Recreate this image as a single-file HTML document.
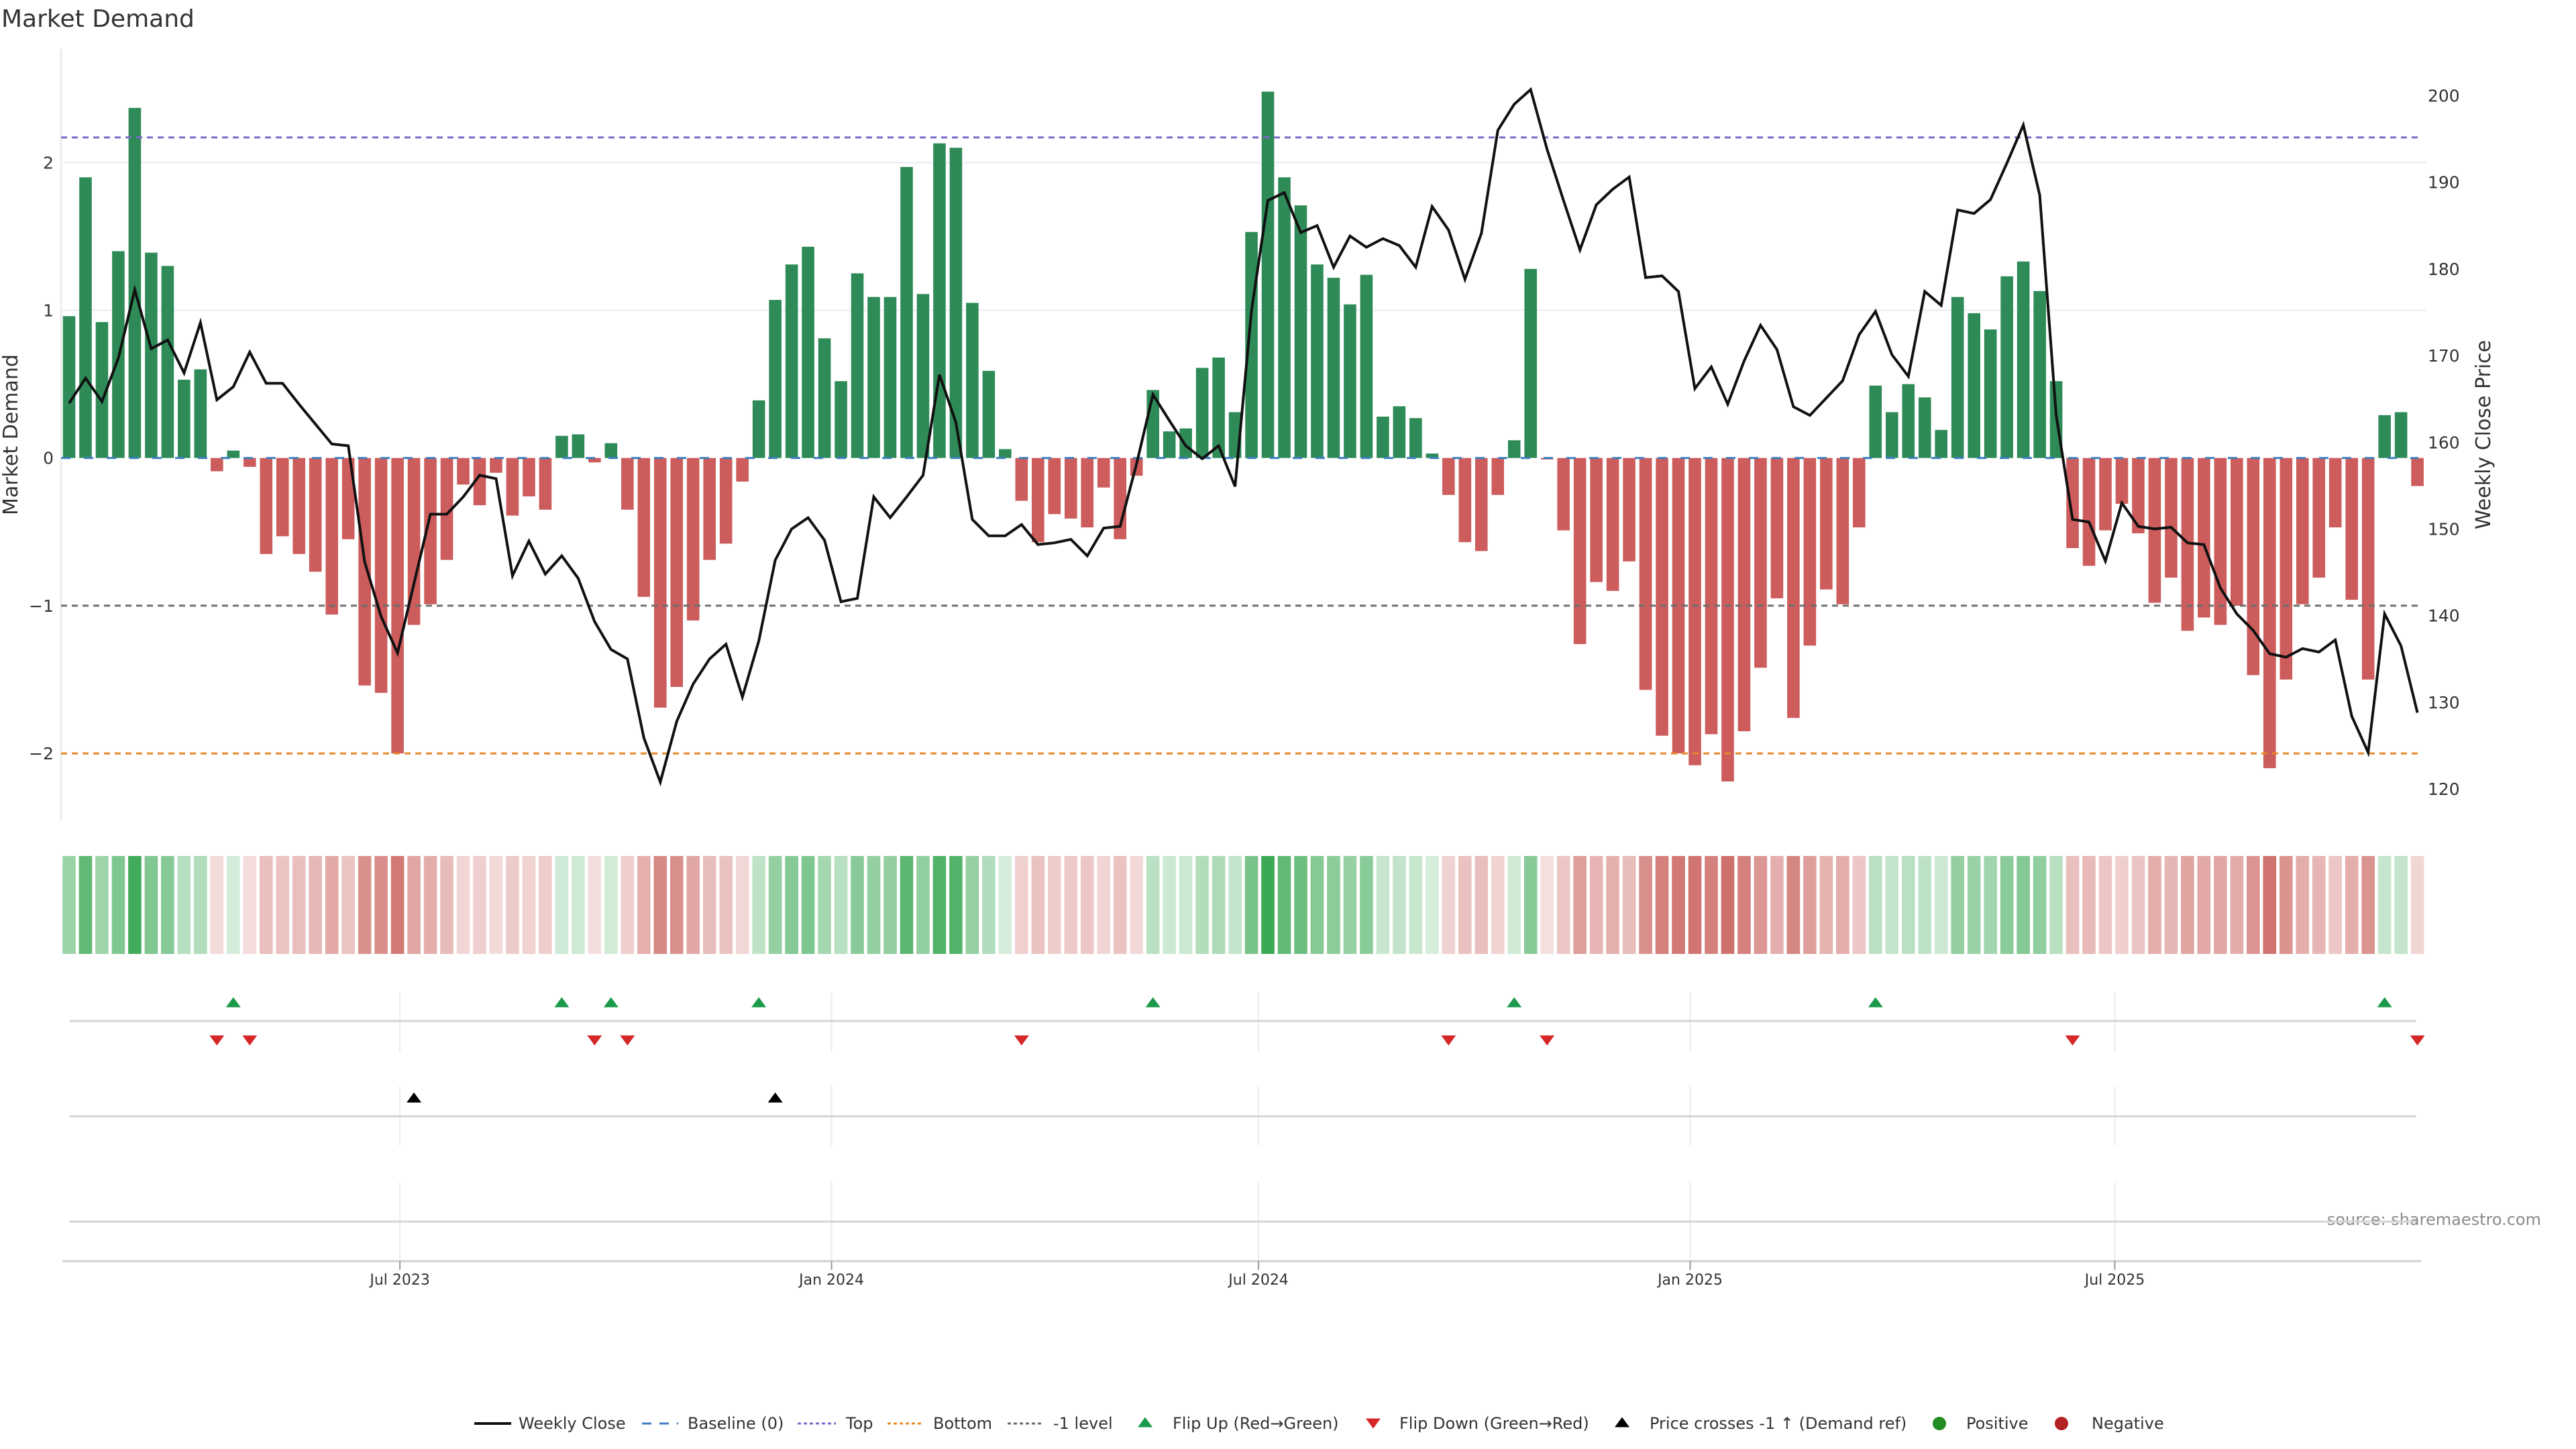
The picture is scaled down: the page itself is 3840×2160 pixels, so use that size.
<!DOCTYPE html>
<html><head><meta charset="utf-8"><style>
html,body{margin:0;padding:0;background:#fff}
svg{display:block}
text{font-family:"DejaVu Sans","Liberation Sans",sans-serif;fill:#333}
</style></head><body>
<svg id="chart" width="3840" height="2160" viewBox="0 0 3840 2160" xmlns="http://www.w3.org/2000/svg">
<rect width="3840" height="2160" fill="#fff"/>
<text x="2" y="40" font-size="36">Market Demand</text>
<text transform="translate(26,648) rotate(-90)" text-anchor="middle" font-size="30">Market Demand</text>
<text transform="translate(3712,648) rotate(-90)" text-anchor="middle" font-size="30">Weekly Close Price</text>
<text x="3788" y="1826" text-anchor="end" font-size="24" style="fill:#8a8a8a">source: sharemaestro.com</text>
<g id="main"></g>
<g id="heat"></g>
<g id="rows"></g>
<g id="legend"></g>
</svg>
<script>
const demand = [0.96,1.9,0.92,1.4,2.37,1.39,1.3,0.53,0.6,-0.09,0.05,-0.06,-0.65,-0.53,-0.65,-0.77,-1.06,-0.55,-1.54,-1.59,
-2.0,-1.13,-0.99,-0.69,-0.18,-0.32,-0.1,-0.39,-0.26,-0.35,0.15,0.16,-0.03,0.1,-0.35,-0.94,-1.69,-1.55,-1.1,-0.69,
-0.58,-0.16,0.39,1.07,1.31,1.43,0.81,0.52,1.25,1.09,1.09,1.97,1.11,2.13,2.1,1.05,0.59,0.06,-0.29,-0.57,
-0.38,-0.41,-0.47,-0.2,-0.55,-0.12,0.46,0.18,0.2,0.61,0.68,0.31,1.53,2.48,1.9,1.71,1.31,1.22,1.04,1.24,
0.28,0.35,0.27,0.03,-0.25,-0.57,-0.63,-0.25,0.12,1.28,-0.01,-0.49,-1.26,-0.84,-0.9,-0.7,-1.57,-1.88,-2.0,-2.08,
-1.87,-2.19,-1.85,-1.42,-0.95,-1.76,-1.27,-0.89,-0.99,-0.47,0.49,0.31,0.5,0.41,0.19,1.09,0.98,0.87,1.23,1.33,
1.13,0.52,-0.61,-0.73,-0.49,-0.31,-0.51,-0.98,-0.81,-1.17,-1.08,-1.13,-1.0,-1.47,-2.1,-1.5,-0.99,-0.81,-0.47,-0.96,
-1.5,0.29,0.31,-0.19];
const closePrice = [164.5,167.4,164.7,169.7,177.6,170.8,171.8,168,173.8,164.9,166.4,170.4,166.8,166.8,164.4,162.1,159.8,159.6,146.2,139.9,
135.7,143.7,151.7,151.7,153.7,156.2,155.8,144.6,148.6,144.8,146.9,144.3,139.3,136.1,135,125.9,120.8,127.8,132.1,135,
136.7,130.6,137.1,146.4,150,151.3,148.7,141.6,142,153.7,151.3,153.7,156.2,167.8,162.3,151.1,149.2,149.2,150.5,148.2,
148.4,148.8,146.9,150.1,150.3,157.5,165.5,162.5,159.6,158.1,159.6,154.9,175.2,187.9,188.8,184.2,185,180.2,183.8,182.5,
183.5,182.7,180.2,187.2,184.5,178.8,184.1,196,199,200.7,193.8,187.9,182.2,187.4,189.2,190.6,179,179.2,177.4,166.2,
168.7,164.4,169.4,173.5,170.7,164.1,163.1,165.1,167.1,172.4,175.1,170.1,167.6,177.4,175.8,186.8,186.4,188,192.2,196.6,
188.5,163.1,151.1,150.8,146.3,153,150.3,150,150.2,148.4,148.2,143.2,140.2,138.3,135.6,135.2,136.2,135.8,137.2,128.4,
124.2,140.2,136.5,128.8];
const leftTicks = [2,1,0,-1,-2];
const rightTicks = [200,190,180,170,160,150,140,130,120];
const dateTicks = ["2023-07-01","2024-01-01","2024-07-01","2025-01-01","2025-07-01"];
const dateTickLabels = ["Jul 2023","Jan 2024","Jul 2024","Jan 2025","Jul 2025"];
const startDate = "2023-02-10";
const topLevel = 2.17, bottomLevel = -2, refLevel = -1;

const NS = "http://www.w3.org/2000/svg";
function mk(tag, attrs, parent){const e=document.createElementNS(NS,tag);for(const k in attrs)e.setAttribute(k,attrs[k]);parent.appendChild(e);return e;}
const X0=103, STEP=24.48;
const xi = i => X0 + STEP*i;
const yD = v => 682.7 - v*220.2;
const yP = p => 142.5 + (200-p)*12.92;
const xDate = s => X0 + ((new Date(s) - new Date(startDate))/86400000/7)*STEP;
const PL=91, PR=3617;
const main=document.getElementById('main');

let e=mk('line',{x1:PL,x2:PL,y1:73,y2:1223,stroke:'#ececec','stroke-width':3},main);


[1,2].forEach(v=>{
  const g=mk('line',{x1:PL,x2:PR,y1:yD(v),y2:yD(v),stroke:'#eef1f5','stroke-width':3},main);
  
  
});
leftTicks.forEach(v=>{
  const t=mk('text',{x:80,y:yD(v)+9,'text-anchor':'end','font-size':25},main);
  t.textContent = v<0 ? '\u2212'+Math.abs(v) : String(v);
  
  
});
rightTicks.forEach(p=>{
  const t=mk('text',{x:3619,y:yP(p)+9,'font-size':25},main);
  t.textContent=String(p);
  
  
});
demand.forEach((v,i)=>{
  const y0=yD(0), y1=yD(v);
  const r=mk('rect',{x:xi(i)-9.3,y:Math.min(y0,y1),width:18.6,height:Math.max(Math.abs(y1-y0),1),fill:v>=0?'#2e8b57':'#cd5c5c'},main);
  
  
});
function hline(v,color,dash,name){
  const l=mk('line',{x1:PL,x2:3605,y1:yD(v),y2:yD(v),stroke:color,'stroke-width':3,'stroke-dasharray':dash},main);
  
  
}
hline(topLevel,'#7b6bc9','9,7','top-line');
hline(refLevel,'#6e6e6e','9,7','minus-one-level-line');
hline(bottomLevel,'#e8892a','9,7','bottom-line');
hline(0,'#3f7fbf','14,20','baseline-zero');
const pts=closePrice.map((p,i)=>xi(i).toFixed(1)+','+yP(p).toFixed(1)).join(' ');
e=mk('polyline',{points:pts,fill:'none',stroke:'#111','stroke-width':4,'stroke-linejoin':'miter'},main);



const heat=document.getElementById('heat');
function mix(c,a){return 'rgb('+c.map(ch=>Math.round(255-(255-ch)*a)).join(',')+')';}
demand.forEach((v,i)=>{
  const a=0.2+0.8*Math.min(Math.abs(v)/2.5,1);
  const col = v>=0 ? mix([58,168,84],a) : mix([201,96,91],a);
  const r=mk('rect',{x:xi(i)-9.8,y:1276,width:19.6,height:146,fill:col},heat);
  
  
});

const rows=document.getElementById('rows');
[[1479,1568],[1619,1708],[1762,1878]].forEach(([a,b])=>{
  dateTicks.forEach(d=>{
    const l=mk('line',{x1:xDate(d),x2:xDate(d),y1:a,y2:b,stroke:'#ebebeb','stroke-width':2},rows);
    
    
  });
});
[1522,1664,1821].forEach(y=>{
  const l=mk('line',{x1:104,x2:3602,y1:y,y2:y,stroke:'#d4d4d4','stroke-width':3},rows);
  
  
});
e=mk('line',{x1:93,x2:3609,y1:1880,y2:1880,stroke:'#cfcfcf','stroke-width':3},rows);


dateTicks.forEach((d,k)=>{
  const x=xDate(d);
  const tk=mk('line',{x1:x,x2:x,y1:1880,y2:1893,stroke:'#999','stroke-width':2},rows);
  
  
  const t=mk('text',{x:x,y:1915,'text-anchor':'middle','font-size':22},rows);
  t.textContent=dateTickLabels[k];
  
  
});
function tri(x,y,up,color,parent){
  const h=15,w=11;
  const p= up ? `${x-w},${y+h/2} ${x+w},${y+h/2} ${x},${y-h/2}` : `${x-w},${y-h/2} ${x+w},${y-h/2} ${x},${y+h/2}`;
  return mk('polygon',{points:p,fill:color},parent);
}
for(let i=1;i<demand.length;i++){
  if(demand[i-1]<=0 && demand[i]>0){
    const m=tri(xi(i),1494,true,'#1a9a4a',rows);
    
    
  }
  if(demand[i-1]>0 && demand[i]<=0){
    const m=tri(xi(i),1551,false,'#d62728',rows);
    
    
  }
}
const refPrice = 200 - (yD(refLevel)-142.5)/12.92;
for(let i=1;i<closePrice.length;i++){
  if(closePrice[i-1]<refPrice && closePrice[i]>=refPrice){
    const m=tri(xi(i),1636,true,'#000',rows);
    
    
  }
}

const lg=document.getElementById('legend');
const LY=2122;
function ltext(x,s){const t=mk('text',{x:x,y:LY+8,'font-size':24},lg);t.textContent=s;return t;}
function lline(x1,x2,color,dash,w){return mk('line',{x1:x1,x2:x2,y1:LY,y2:LY,stroke:color,'stroke-width':w,'stroke-dasharray':dash},lg);}
let it;
it=lline(707,762,'#111','none',4);  
it=ltext(773,'Weekly Close');  
it=lline(957,1011,'#3f7fbf','14,12',3);  
it=ltext(1025,'Baseline (0)');  
it=lline(1189,1246,'#7b6bc9','5,4',3);  
it=ltext(1261,'Top');  
it=lline(1323,1377,'#e8892a','5,4',3);  
it=ltext(1391,'Bottom');  
it=lline(1502,1555,'#6e6e6e','5,4',3);  
it=ltext(1570,'-1 level');  
it=tri(1707,LY-2,true,'#1a9a4a',lg);  
it=ltext(1748,'Flip Up (Red\u2192Green)');  
it=tri(2047,LY,false,'#d62728',lg);  
it=ltext(2086,'Flip Down (Green\u2192Red)');  
it=tri(2418,LY-2,true,'#000',lg);  
it=ltext(2459,'Price crosses -1 \u2191 (Demand ref)');  
it=mk('circle',{cx:2891,cy:LY,r:10,fill:'#228b22'},lg);  
it=ltext(2931,'Positive');  
it=mk('circle',{cx:3073,cy:LY,r:10,fill:'#b22222'},lg);  
it=ltext(3118,'Negative');  
</script>
</body></html>
